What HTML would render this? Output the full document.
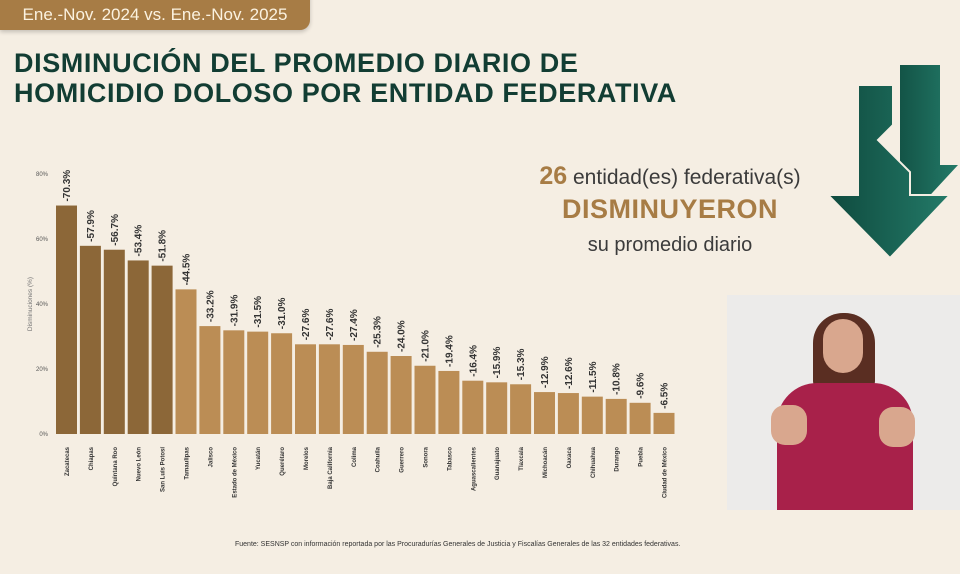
<!DOCTYPE html>
<html><head><meta charset="utf-8"><style>
body{margin:0;width:960px;height:574px;overflow:hidden;background:#f5eee3;font-family:"Liberation Sans",sans-serif;position:relative}
.pill{position:absolute;left:0;top:-12px;width:310px;height:42px;background:#a77c45;border-radius:0 0 10px 0;color:#fbf2e0;font-size:17px;line-height:54px;text-align:center;box-shadow:0 2px 4px rgba(0,0,0,.2)}
h1{position:absolute;left:14px;top:48px;margin:0;font-size:27px;line-height:30px;font-weight:900;color:#123d33;letter-spacing:0.6px;white-space:nowrap}
.r1{position:absolute;left:520px;top:162px;width:300px;text-align:center;font-size:21px;color:#3b3b3b}
.r1 b{color:#a77c45;font-size:25px}
.r2{position:absolute;left:520px;top:194px;width:300px;text-align:center;font-size:27px;font-weight:900;color:#a77c45;letter-spacing:.5px}
.r3{position:absolute;left:520px;top:234px;width:300px;text-align:center;font-size:20px;color:#3b3b3b}
.src{position:absolute;left:235px;top:541px;font-size:7px;color:#333;white-space:nowrap}
</style></head><body>
<div class="pill">Ene.-Nov. 2024 vs. Ene.-Nov. 2025</div>
<h1>DISMINUCIÓN DEL PROMEDIO DIARIO DE<br>HOMICIDIO DOLOSO POR ENTIDAD FEDERATIVA</h1>
<div class="r1"><b>26</b> entidad(es) federativa(s)</div>
<div class="r2">DISMINUYERON</div>
<div class="r3">su promedio diario</div>
<svg width="960" height="574" style="position:absolute;left:0;top:0">
<defs><linearGradient id="g" x1="0" x2="1"><stop offset="0" stop-color="#0f4a3e"/><stop offset="1" stop-color="#237a68"/></linearGradient></defs>
<polygon points="900,65 940,65 940,165 958,165 921,205 885,165 900,165" fill="url(#g)"/>
<polygon points="858,85 893,85 893,125 878,140 910,172 910,195 950,195 890,258 828,195 858,195" fill="url(#g)" stroke="#f5eee3" stroke-width="2"/>
<g font-size="6" fill="#555" text-anchor="end"><text x="48" y="176">80%</text><text x="48" y="241">60%</text><text x="48" y="306">40%</text><text x="48" y="371">20%</text><text x="48" y="436">0%</text></g>
<text transform="translate(32,304) rotate(-90)" font-size="6.5" fill="#777" text-anchor="middle">Disminuciones (%)</text>
<g id="bars"></g>
</svg>
<div class="src">Fuente: SESNSP con información reportada por las Procuradurías Generales de Justicia y Fiscalías Generales de las 32 entidades federativas.</div>
<div style="position:absolute;left:727px;top:295px;width:233px;height:215px;background:#ecebea;overflow:hidden">
<div style="position:absolute;left:86px;top:18px;width:62px;height:78px;background:#5a2e22;border-radius:30px 30px 10px 10px"></div>
<div style="position:absolute;left:96px;top:24px;width:40px;height:54px;background:#d9a78e;border-radius:20px"></div>
<div style="position:absolute;left:50px;top:88px;width:136px;height:140px;background:#a8214a;border-radius:40px 40px 0 0"></div>
<div style="position:absolute;left:44px;top:110px;width:36px;height:40px;background:#d9a78e;border-radius:14px"></div>
<div style="position:absolute;left:152px;top:112px;width:36px;height:40px;background:#d9a78e;border-radius:14px"></div>
</div>
<script>
var v=[70.3,57.9,56.7,53.4,51.8,44.5,33.2,31.9,31.5,31.0,27.6,27.6,27.4,25.3,24.0,21.0,19.4,16.4,15.9,15.3,12.9,12.6,11.5,10.8,9.6,6.5];
var n=["Zacatecas","Chiapas","Quintana Roo","Nuevo León","San Luis Potosí","Tamaulipas","Jalisco","Estado de México","Yucatán","Querétaro","Morelos","Baja California","Colima","Coahuila","Guerrero","Sonora","Tabasco","Aguascalientes","Guanajuato","Tlaxcala","Michoacán","Oaxaca","Chihuahua","Durango","Puebla","Ciudad de México"];
var s="";
for(var i=0;i<26;i++){var x=56+i*23.9,h=v[i]*3.25,y=434-h,c=i<5?"#8c6738":"#bb8d55";
s+='<rect x="'+x+'" y="'+y+'" width="21" height="'+h+'" fill="'+c+'"/>';
s+='<text transform="translate('+(x+14)+','+(y-4)+') rotate(-90)" font-size="10" font-weight="bold" fill="#333">-'+v[i].toFixed(1)+'%</text>';
s+='<text transform="translate('+(x+13)+',447) rotate(-90)" font-size="6" font-weight="bold" fill="#333" text-anchor="end">'+n[i]+'</text>';}
document.getElementById("bars").innerHTML=s;
</script>
</body></html>
